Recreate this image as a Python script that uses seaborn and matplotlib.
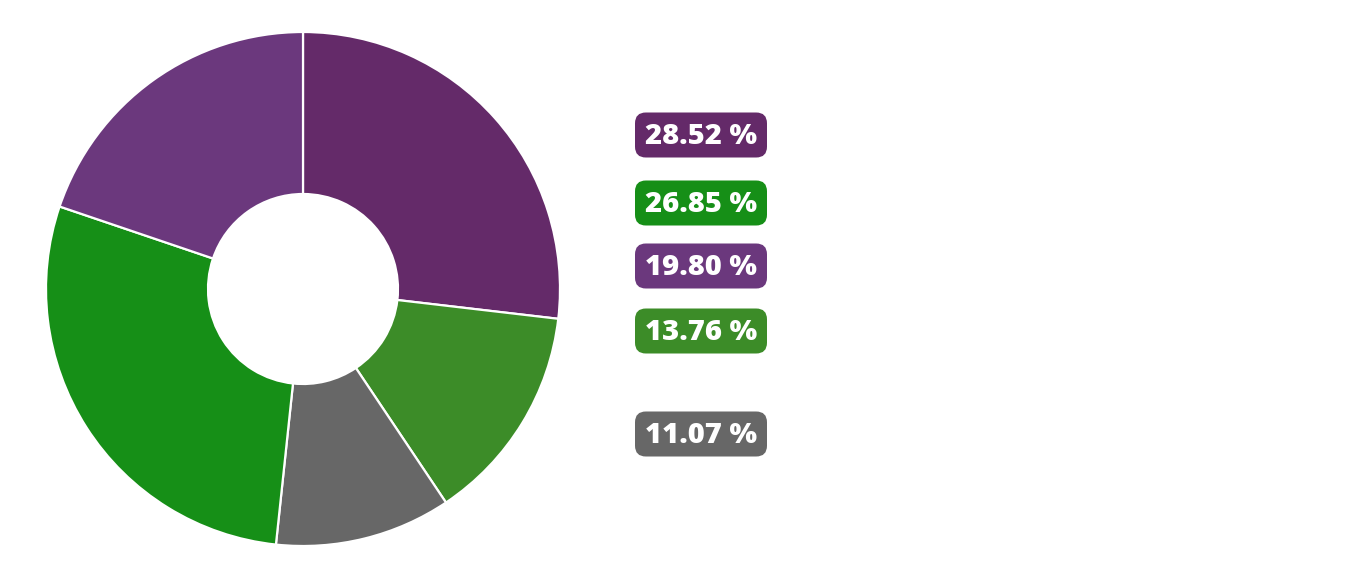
import matplotlib
matplotlib.use("Agg")
import matplotlib.pyplot as plt
from matplotlib.patches import FancyBboxPatch
import seaborn as sns

# Données du graphique (sens horaire depuis le haut)
shares = [26.85, 13.76, 11.07, 28.52, 19.80]
slice_colors = ["#642a69", "#3c8c28", "#676767", "#168f17", "#6b387d"]

# Étiquettes de la légende (ordre affiché)
label_values = [28.52, 26.85, 19.80, 13.76, 11.07]
label_colors = ["#642a69", "#168f17", "#6b387d", "#3c8c28", "#676767"]
label_y_px = [135, 203, 266, 331, 434]


def main():
    sns.set_theme(style="white")
    plt.rcParams['font.family'] = ['Open Sans', 'DejaVu Sans']

    W, H = 1350, 577
    fig = plt.figure(figsize=(W / 100, H / 100), dpi=100)
    fig.patch.set_facecolor("white")

    cx, cy, r = 303, 289, 257
    ax = fig.add_axes([(cx - r) / W, (H - cy - r) / H, 2 * r / W, 2 * r / H])
    ax.pie(
        shares,
        colors=sns.color_palette(slice_colors),
        startangle=90,
        counterclock=False,
        radius=1.0,
        wedgeprops=dict(width=(r - 95) / r, edgecolor="white", linewidth=1.6),
    )
    ax.set_aspect("equal")
    ax.set_xlim(-1, 1)
    ax.set_ylim(-1, 1)
    ax.axis("off")

    # Boîtes arrondies avec pourcentages
    bx0, bx1, bh = 635, 767, 45
    for val, col, y in zip(label_values, label_colors, label_y_px):
        box = FancyBboxPatch(
            (bx0 / W, (H - y - bh / 2) / H), (bx1 - bx0) / W, bh / H,
            boxstyle="round,pad=0,rounding_size=0.008",
            transform=fig.transFigure, facecolor=col, edgecolor="none",
            mutation_aspect=W / H,
        )
        fig.add_artist(box)
        fig.text((bx0 + bx1) / 2 / W, (H - y - 1.5) / H, f"{val:.2f} %",
                 ha="center", va="center", color="white",
                 fontsize=21, fontweight="heavy")

    fig.savefig("out.png", dpi=100, facecolor="white")


if __name__ == '__main__':
    main()
